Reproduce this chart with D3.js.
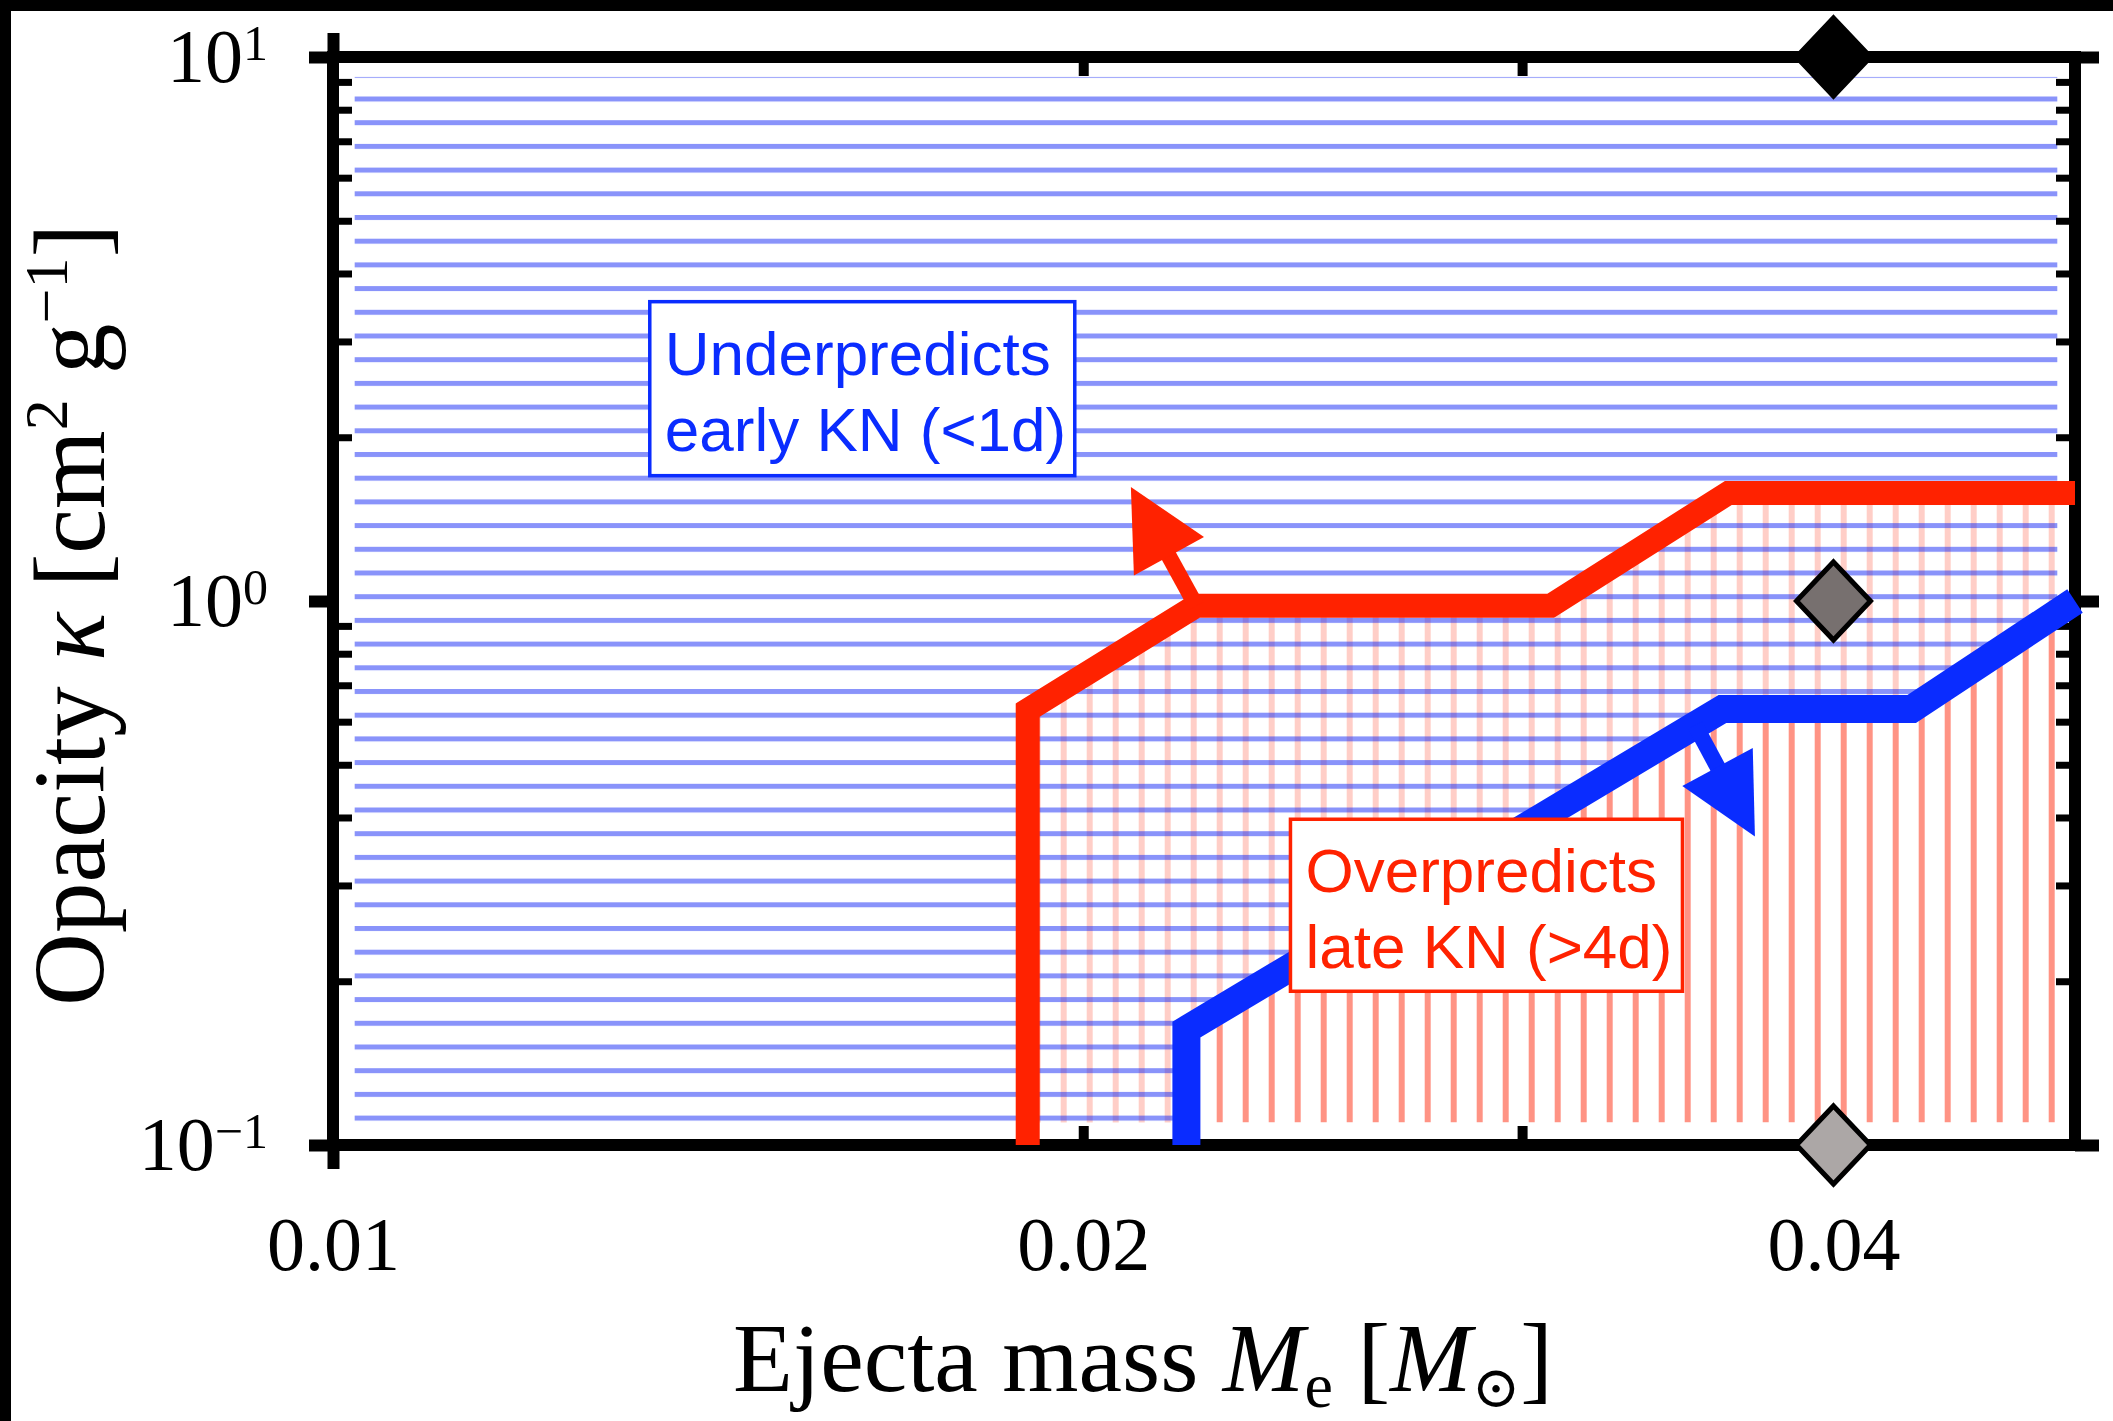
<!DOCTYPE html>
<html>
<head>
<meta charset="utf-8">
<script src="https://cdn.jsdelivr.net/npm/d3@7"></script>
<style>
  body { margin: 0; background: #fff; }
  svg { display: block; }
</style>
</head>
<body>
<svg id="chart" width="2113" height="1421"></svg>
<script>
// axes (both log)
const xDomain = [0.01, 0.05];
const yDomain = [0.1, 10];
const xTickLabels = [0.01, 0.02, 0.04];
const yTickLabels = [0.1, 1, 10];

// red boundary, model overpredicts late KN below/right of it
const redMass = [0.0190, 0.0190, 0.0222, 0.0308, 0.0363, 0.0500];
const redKappa = [0.10, 0.63, 0.98, 0.98, 1.58, 1.58];

// blue boundary, model underpredicts early KN above/left of it
const blueMass = [0.0220, 0.0220, 0.0361, 0.0430, 0.0500];
const blueKappa = [0.10, 0.163, 0.633, 0.633, 1.0];

// extent of the hatching
const hatchMass = [0.0102, 0.0492];
const hatchKappa = [0.11, 9.2];

// arrows (from boundary, pointing into region)
const arrowFrom = [[0.0222, 0.98], [0.0352, 0.591]];
const arrowTo = [[0.0209, 1.62], [0.0372, 0.369]];
const arrowColor = ["#ff2200", "#0a2cff"];

// models at 0.04 Msun
const modelMass = [0.04, 0.04, 0.04];
const modelKappa = [10, 1, 0.1];
const modelFill = ["#000000", "#77706f", "#aca7a6"];

const W = 2113, H = 1421;
const margin = { top: 57, right: 38, bottom: 276, left: 333 };
const serif = "'Liberation Serif', 'Times New Roman', Times, serif";
const sans = "'Liberation Sans', Arial, Helvetica, sans-serif";
const RED = "#ff2200", BLUE = "#0a2cff";

const svg = d3.select("#chart");

const x = d3.scaleLog().domain(xDomain).range([margin.left, W - margin.right]);
const y = d3.scaleLog().domain(yDomain).range([H - margin.bottom, margin.top]);
const [xl, xr] = x.range();
const [yb, yt] = y.range();

// black frame at the left and top edge of the picture
svg.append("rect").attr("x", 0).attr("y", 0).attr("width", W).attr("height", 11).attr("fill", "#000");
svg.append("rect").attr("x", 0).attr("y", 0).attr("width", 11).attr("height", H).attr("fill", "#000");

// hatch patterns
const defs = svg.append("defs");
const vp = defs.append("pattern").attr("id", "vhatch")
    .attr("patternUnits", "userSpaceOnUse")
    .attr("x", 1060.7).attr("y", 0).attr("width", 26).attr("height", 20);
vp.append("rect").attr("width", 6).attr("height", 20).attr("fill", "rgba(255,40,10,0.5)");

const hp = defs.append("pattern").attr("id", "hhatch")
    .attr("patternUnits", "userSpaceOnUse")
    .attr("x", 0).attr("y", 96.5).attr("width", 20).attr("height", 23.7);
hp.append("rect").attr("width", 20).attr("height", 5).attr("fill", "rgba(20,40,245,0.5)");

const hx0 = x(hatchMass[0]), hx1 = x(hatchMass[1]);
const hy0 = y(hatchKappa[1]), hy1 = y(hatchKappa[0]);
defs.append("clipPath").attr("id", "hatchBox")
    .append("rect").attr("x", hx0).attr("y", hy0)
    .attr("width", hx1 - hx0).attr("height", hy1 - hy0);

const redPts = d3.zip(redMass, redKappa).map(([m, k]) => [x(m), y(k)]);
const bluePts = d3.zip(blueMass, blueKappa).map(([m, k]) => [x(m), y(k)]);

const redPoly = [...redPts,
    [xr + 60, redPts[redPts.length - 1][1]], [xr + 60, yb + 60], [redPts[0][0], yb + 60]];
const bluePoly = [...bluePts,
    [xr + 60, bluePts[bluePts.length - 1][1]], [xr + 60, yt - 60],
    [xl - 60, yt - 60], [xl - 60, yb + 60], [bluePts[0][0], yb + 60]];

defs.append("clipPath").attr("id", "redArea")
    .append("path").attr("d", "M" + redPoly.join("L") + "Z");
defs.append("clipPath").attr("id", "blueArea")
    .append("path").attr("d", "M" + bluePoly.join("L") + "Z");

// red hatching (vertical)
svg.append("g").attr("clip-path", "url(#hatchBox)")
  .append("g").attr("clip-path", "url(#redArea)")
  .append("rect").attr("x", hx0).attr("y", hy0)
    .attr("width", hx1 - hx0).attr("height", hy1 - hy0)
    .attr("fill", "url(#vhatch)");

// blue hatching (horizontal), washes out the red below it
const blueG = svg.append("g").attr("clip-path", "url(#hatchBox)")
  .append("g").attr("clip-path", "url(#blueArea)");
blueG.append("rect").attr("x", hx0).attr("y", hy0)
    .attr("width", hx1 - hx0).attr("height", hy1 - hy0)
    .attr("fill", "#fff").attr("fill-opacity", 0.55);
blueG.append("rect").attr("x", hx0).attr("y", hy0)
    .attr("width", hx1 - hx0).attr("height", hy1 - hy0)
    .attr("fill", "url(#hhatch)");

// frame
svg.append("rect").attr("x", xl).attr("y", yt)
    .attr("width", xr - xl).attr("height", yb - yt)
    .attr("fill", "none").attr("stroke", "#000").attr("stroke-width", 12);

// ticks: decades outward, the rest inward
const isDecade = v => Math.abs(Math.log10(v) - Math.round(Math.log10(v))) < 1e-6;
const xMajor = x.ticks().filter(isDecade), xMinor = x.ticks().filter(v => !isDecade(v));
const yMajor = y.ticks().filter(isDecade), yMinor = y.ticks().filter(v => !isDecade(v));

function tickMarks(axis, values, size, width, transform) {
    const g = svg.append("g").attr("transform", transform)
        .call(axis.tickValues(values).tickSize(size).tickFormat(""));
    g.select(".domain").remove();
    g.selectAll(".tick line").attr("stroke", "#000").attr("stroke-width", width);
    g.selectAll(".tick text").remove();
}
tickMarks(d3.axisBottom(x), xMajor, 24, 12, `translate(0,${yb})`);
tickMarks(d3.axisBottom(x), xMinor, -19, 10, `translate(0,${yb})`);
tickMarks(d3.axisTop(x), xMajor, 24, 12, `translate(0,${yt})`);
tickMarks(d3.axisTop(x), xMinor, -19, 10, `translate(0,${yt})`);
tickMarks(d3.axisLeft(y), yMajor, 24, 12, `translate(${xl},0)`);
tickMarks(d3.axisLeft(y), yMinor, -19, 7, `translate(${xl},0)`);
tickMarks(d3.axisRight(y), yMajor, 24, 12, `translate(${xr},0)`);
tickMarks(d3.axisRight(y), yMinor, -19, 7, `translate(${xr},0)`);

// tick labels
const xLab = svg.append("g").attr("transform", `translate(0,${yb})`)
    .call(d3.axisBottom(x).tickValues(xTickLabels).tickSize(0).tickPadding(71)
        .tickFormat(d3.format(".2f")));
xLab.select(".domain").remove();
xLab.selectAll("text").attr("font-family", serif).attr("font-size", 76).attr("fill", "#000");

const yLab = svg.append("g").attr("transform", `translate(${xl},0)`)
    .call(d3.axisLeft(y).tickValues(yTickLabels).tickSize(0).tickPadding(65));
yLab.select(".domain").remove();
yLab.selectAll("text")
    .attr("font-family", serif).attr("font-size", 76).attr("fill", "#000")
    .each(function (d) {
        const t = d3.select(this).text(null);
        const e = Math.round(Math.log10(d));
        t.append("tspan").text("10");
        t.append("tspan").attr("dy", -22).attr("font-size", 50)
            .text(e < 0 ? "\u2212" + (-e) : String(e));
    });

// axis titles
const xt = svg.append("text").attr("x", 1143).attr("y", 1391)
    .attr("text-anchor", "middle").attr("font-family", serif).attr("font-size", 98);
xt.append("tspan").text("Ejecta mass ");
xt.append("tspan").attr("font-style", "italic").text("M");
xt.append("tspan").attr("font-size", 64).attr("dy", 16).text("e");
xt.append("tspan").attr("dy", -16).text(" [");
xt.append("tspan").attr("font-style", "italic").text("M");
xt.append("tspan").attr("font-size", 58).attr("dy", 16)
    .attr("font-family", "'DejaVu Serif', 'DejaVu Sans', serif").text("\u2299");
xt.append("tspan").attr("dy", -16).text("]");

const yt2 = svg.append("text").attr("transform", "translate(104,615) rotate(-90)")
    .attr("text-anchor", "middle").attr("font-family", serif).attr("font-size", 101);
yt2.append("tspan").text("Opacity ");
yt2.append("tspan").attr("font-style", "italic").text("\u03BA");
yt2.append("tspan").text(" [cm");
yt2.append("tspan").attr("font-size", 62).attr("dy", -37).text("2");
yt2.append("tspan").attr("dy", 37).text(" g");
yt2.append("tspan").attr("font-size", 62).attr("dy", -37).text("\u22121");
yt2.append("tspan").attr("dy", 37).text("]");

// boundaries
const line = d3.line();
svg.append("path").attr("d", line(redPts))
    .attr("fill", "none").attr("stroke", RED).attr("stroke-width", 24)
    .attr("stroke-linejoin", "miter").attr("stroke-linecap", "butt");
svg.append("path").attr("d", line(bluePts))
    .attr("fill", "none").attr("stroke", BLUE).attr("stroke-width", 28)
    .attr("stroke-linejoin", "miter").attr("stroke-linecap", "butt");

// arrows
arrowFrom.forEach((f, i) => {
    const x0 = x(f[0]), y0 = y(f[1]);
    const x1 = x(arrowTo[i][0]), y1 = y(arrowTo[i][1]);
    const L = Math.hypot(x1 - x0, y1 - y0);
    const ux = (x1 - x0) / L, uy = (y1 - y0) / L;
    const headL = 79, headW = 80;
    const bx = x1 - ux * headL, by = y1 - uy * headL;
    svg.append("line").attr("x1", x0).attr("y1", y0).attr("x2", bx + ux * 2).attr("y2", by + uy * 2)
        .attr("stroke", arrowColor[i]).attr("stroke-width", 16);
    svg.append("path")
        .attr("d", `M${x1},${y1}L${bx - uy * headW / 2},${by + ux * headW / 2}L${bx + uy * headW / 2},${by - ux * headW / 2}Z`)
        .attr("fill", arrowColor[i]);
});

// annotation boxes
function noteBox(mass, kappa, w, h, lines, color) {
    const bx = x(mass), by = y(kappa);
    const g = svg.append("g");
    g.append("rect").attr("x", bx).attr("y", by).attr("width", w).attr("height", h)
        .attr("fill", "#fff").attr("stroke", color).attr("stroke-width", 3.5);
    lines.forEach((s, i) => {
        g.append("text").attr("x", bx + 15).attr("y", by + 73 + i * 76)
            .attr("font-family", sans).attr("font-size", 62).attr("fill", color).text(s);
    });
}
noteBox(0.0134, 3.55, 425, 174, ["Underpredicts", "early KN (<1d)"], BLUE);
noteBox(0.02422, 0.397, 392, 172, ["Overpredicts", "late KN (>4d)"], RED);

// model diamonds
svg.append("g").selectAll("path")
    .data(d3.zip(modelMass, modelKappa, modelFill))
    .join("path")
    .attr("d", d => {
        const cx = x(d[0]), cy = y(d[1]);
        return `M${cx},${cy - 39}L${cx + 37},${cy}L${cx},${cy + 39}L${cx - 37},${cy}Z`;
    })
    .attr("fill", d => d[2])
    .attr("stroke", "#000").attr("stroke-width", 5).attr("stroke-linejoin", "miter");
</script>
</body>
</html>
